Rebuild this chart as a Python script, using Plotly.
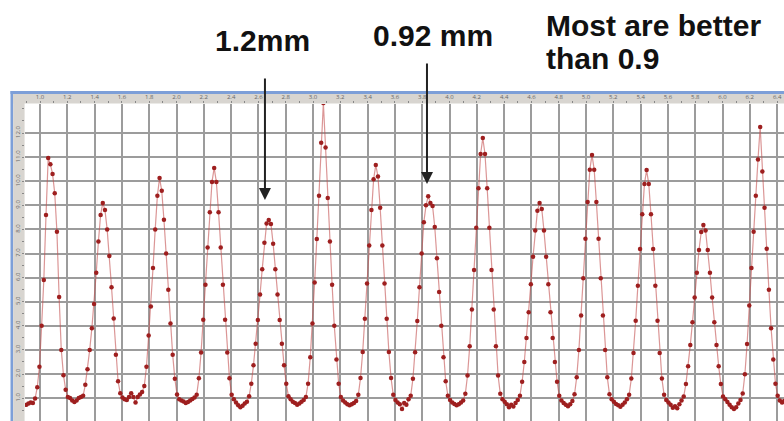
import numpy as np
import plotly.graph_objects as go

# ---- data ----
x_start_mm = 0.90
x_step_mm = 0.016
signal = [
    0.72, 0.78, 0.82, 0.80, 0.98, 1.45, 2.3, 4.0, 5.9, 8.6, 10.96, 10.70, 10.30, 9.50, 7.90, 5.20, 3.00, 1.95, 1.35, 1.05,
    1.00, 0.90, 0.84, 0.90, 1.00, 1.05, 1.10,
    1.55, 2.2, 3.0, 3.9, 4.9, 6.2, 7.5, 8.6, 9.10, 8.8, 8.0, 6.9, 5.6, 4.3, 2.8, 1.7, 1.2, 1.02,
    0.95, 0.92, 1.05, 1.20, 1.05, 0.82, 1.05, 1.15, 1.25, 1.5,
    2.3, 3.6, 4.8, 6.4, 8.0, 9.4, 10.13, 9.6, 8.4, 7.0, 5.5, 4.1, 2.8, 1.8, 1.15,
    0.95, 0.90, 0.86, 0.80, 0.84, 0.90, 0.96, 1.02,
    1.14, 1.82, 2.89, 4.25, 5.70, 7.25, 8.71, 9.97, 10.55, 9.97, 8.71, 7.25, 5.70, 4.25, 2.89, 1.82, 1.14,
    0.95, 0.82, 0.70, 0.62, 0.68, 0.78, 0.85,
    1.08, 1.60, 2.36, 3.26, 4.24, 5.30, 6.35, 7.45, 8.25, 8.39, 8.22, 7.40, 6.35, 5.30, 4.24, 3.26, 2.36, 1.60, 1.08,
    0.95, 0.85, 0.80, 0.72, 0.78, 0.85, 0.92,
    1.05, 1.6, 2.7, 4.1, 5.8, 7.6, 9.4, 11.6, 13.24, 11.4, 9.3, 7.5, 5.7, 4.0, 2.6, 1.6, 1.05,
    0.90, 0.82, 0.75, 0.70, 0.74, 0.80, 0.88,
    1.14, 1.83, 2.91, 4.29, 5.76, 7.33, 8.80, 10.08, 10.67, 10.2, 8.9, 7.33, 5.76, 4.29, 2.91, 1.83, 1.14,
    0.92, 0.82, 0.74, 0.55, 0.80, 0.72, 0.95,
    1.1, 1.8, 2.9, 4.2, 5.6, 7.0, 8.3, 9.0, 9.38, 9.10, 8.97, 8.1, 6.8, 5.4, 4.0, 2.7, 1.7, 1.1,
    0.92, 0.82, 0.76, 0.70, 0.74, 0.82, 0.90,
    1.18, 1.94, 3.15, 4.68, 6.32, 8.07, 9.71, 11.13, 11.79, 11.13, 9.71, 8.07, 6.32, 4.68, 3.15, 1.94, 1.18,
    0.95, 0.85, 0.75, 0.62, 0.72, 0.65, 0.80, 0.92,
    1.10, 1.68, 2.50, 3.49, 4.56, 5.72, 6.87, 7.95, 8.77, 9.10, 8.85, 7.95, 6.87, 5.72, 4.56, 3.49, 2.50, 1.68, 1.10,
    0.90, 0.80, 0.72, 0.66, 0.75, 0.88,
    1.16, 1.87, 3.00, 4.43, 5.97, 7.61, 9.14, 10.48, 11.09, 10.48, 9.14, 7.61, 5.97, 4.43, 3.00, 1.87, 1.16,
    0.95, 0.85, 0.76, 0.70, 0.64, 0.72, 0.82, 0.95,
    1.14, 1.81, 2.87, 4.21, 5.66, 7.19, 8.63, 9.88, 10.46, 9.88, 8.63, 7.19, 5.66, 4.21, 2.87, 1.81, 1.14,
    0.92, 0.82, 0.72, 0.60, 0.66, 0.58, 0.75, 0.90,
    1.07, 1.58, 2.32, 3.20, 4.15, 5.17, 6.20, 7.15, 7.89, 8.18, 7.95, 7.15, 6.20, 5.17, 4.15, 3.20, 2.32, 1.58, 1.07,
    0.95, 0.84, 0.72, 0.62, 0.55, 0.62, 0.78, 0.92,
    1.19, 1.99, 3.24, 4.84, 6.4, 7.9, 9.4, 10.9, 12.25, 10.4, 8.9, 7.2, 5.5, 3.9, 2.6, 1.6, 1.1,
    0.90, 0.82, 0.88,
]
positions = np.round(x_start_mm + x_step_mm * np.arange(len(signal)), 4)

x_ticks = [round(1.0 + 0.2 * k, 1) for k in range(28)]
y_ticks = list(range(1, 13))

label_wide = "1.2mm"
label_narrow = "0.92 mm"
note_line1 = "Most are better"
note_line2 = "than 0.9"

# ---- layout helpers (figure is 784x421, plot area from px 25..784, 104..421) ----
W, H = 784, 421
ML, MT = 25, 104
PW, PH = W - ML, H - MT


def px_x(p):
    return (p - ML) / PW


def px_y(p):
    return (H - p) / PH


fig = go.Figure()
fig.add_trace(go.Scatter(
    x=positions, y=signal, mode="lines+markers",
    line=dict(color="rgba(195,80,80,0.6)", width=1.2),
    marker=dict(color="#9e1f1f", size=4.5),
    hoverinfo="skip", showlegend=False,
))

shapes = [
    # blue window frame
    dict(type="rect", xref="paper", yref="paper", x0=px_x(10.5), x1=px_x(13.2), y0=px_y(421), y1=px_y(91),
         fillcolor="#7d9fd8", line=dict(width=0), layer="below"),
    dict(type="rect", xref="paper", yref="paper", x0=px_x(10.5), x1=px_x(784), y0=px_y(94), y1=px_y(91),
         fillcolor="#7d9fd8", line=dict(width=0), layer="below"),
    # gray rulers
    dict(type="rect", xref="paper", yref="paper", x0=px_x(13.2), x1=px_x(784), y0=px_y(103.6), y1=px_y(94),
         fillcolor="#d8d5d0", line=dict(width=0), layer="below"),
    dict(type="rect", xref="paper", yref="paper", x0=px_x(13.2), x1=px_x(24.6), y0=px_y(421), y1=px_y(94),
         fillcolor="#d8d5d0", line=dict(width=0), layer="below"),
]

annotations = [
    dict(text=f"<b>{label_wide}</b>", xref="paper", yref="paper", x=px_x(262), y=px_y(41),
         showarrow=False, xanchor="center", yanchor="middle",
         font=dict(family="Liberation Sans, Arial", size=30, color="#111111")),
    dict(text=f"<b>{label_narrow}</b>", xref="paper", yref="paper", x=px_x(433), y=px_y(35),
         showarrow=False, xanchor="center", yanchor="middle",
         font=dict(family="Liberation Sans, Arial", size=30, color="#111111")),
    dict(text=f"<b>{note_line1}</b>", xref="paper", yref="paper", x=px_x(544), y=px_y(25),
         showarrow=False, xanchor="left", yanchor="middle",
         font=dict(family="Liberation Sans, Arial", size=30, color="#111111")),
    dict(text=f"<b>{note_line2}</b>", xref="paper", yref="paper", x=px_x(544), y=px_y(58),
         showarrow=False, xanchor="left", yanchor="middle",
         font=dict(family="Liberation Sans, Arial", size=30, color="#111111")),
    # arrows pointing at the two peaks
    dict(text="", x=2.648, y=9.22, xref="x", yref="y", showarrow=True, ax=0, ay=-123,
         arrowhead=2, arrowsize=1.2, arrowwidth=2, arrowcolor="#222222"),
    dict(text="", x=3.835, y=9.88, xref="x", yref="y", showarrow=True, ax=0, ay=-122,
         arrowhead=2, arrowsize=1.2, arrowwidth=2, arrowcolor="#222222"),
]

x0 = 1.0 - 15 / 136.5
fig.update_layout(
    width=W, height=H,
    margin=dict(l=ML, r=0, t=MT, b=0, pad=0),
    paper_bgcolor="white", plot_bgcolor="white",
    shapes=shapes, annotations=annotations,
    xaxis=dict(range=[x0, x0 + PW / 136.5], side="top", tickvals=x_ticks, tickformat=".1f",
               showgrid=True, gridcolor="#9c9c9c", gridwidth=1.5, zeroline=False, showline=False,
               ticks="outside", ticklen=2, tickcolor="#888", tickfont=dict(size=6, color="#666"),
               minor=dict(dtick=0.1, tick0=1.0, ticks="outside", ticklen=2, tickcolor="#888", showgrid=False),
               fixedrange=True),
    yaxis=dict(range=[1 + (398.1 - 421) / 24.1, 1 + (398.1 - 104) / 24.1], tickvals=y_ticks, tickformat=".1f",
               showgrid=True, gridcolor="#9c9c9c", gridwidth=1.5, zeroline=False, showline=False,
               ticks="outside", ticklen=2, tickcolor="#888", tickangle=-90, tickfont=dict(size=6, color="#666"),
               minor=dict(dtick=0.5, ticks="outside", ticklen=2, tickcolor="#888", showgrid=False),
               fixedrange=True),
)

fig.write_html("out.html")
